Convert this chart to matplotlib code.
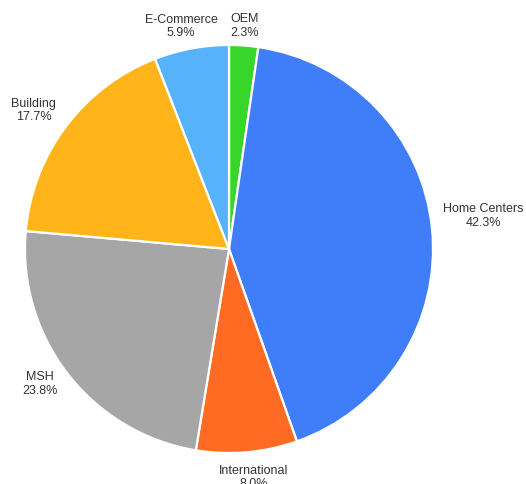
import numpy as np
import matplotlib
matplotlib.use("Agg")
import matplotlib.pyplot as plt

categories = ["OEM", "Home Centers", "International", "MSH", "Building", "E-Commerce"]
shares = [2.3, 42.3, 8.0, 23.8, 17.7, 5.9]
colors = ["#38d52a", "#3f7ef8", "#ff6b22", "#a6a6a6", "#ffb419", "#56b2fb"]

# small per-label nudges in pixels (right, down)
label_nudge = [(0, -1), (-7, -11), (5, 7), (4, -1), (5, -5), (-7, -4)]

W, H = 526, 484
fig = plt.figure(figsize=(W / 100, H / 100), dpi=100)
ax = fig.add_axes([0, 0, 1, 1])

cx, cy, R = 229, H - 249, 204
wedges, _ = ax.pie(shares, colors=colors, startangle=90, counterclock=False,
                   center=(cx, cy), radius=R, frame=True,
                   wedgeprops=dict(edgecolor="white", linewidth=1.6))
ax.set_xlim(0, W)
ax.set_ylim(0, H)
ax.set_aspect("equal")
ax.axis("off")

plt.rcParams["font.family"] = ["Liberation Sans", "DejaVu Sans"]
for w, name, val, (nx, ny) in zip(wedges, categories, shares, label_nudge):
    mid = np.deg2rad((w.theta1 + w.theta2) / 2)
    dx, dy = np.cos(mid), np.sin(mid)
    r = R * 1.09
    x, y = cx + r * dx + nx, cy + r * dy - ny
    if dx > 0.6:
        ha = "left"
    elif dx < -0.6:
        ha = "right"
    else:
        ha = "center"
    ax.text(x, y, f"{name}\n{val:.1f}%", ha=ha, va="center", fontsize=9,
            color="#333333", linespacing=1.2, multialignment="center")

fig.savefig("out.png", dpi=100)
